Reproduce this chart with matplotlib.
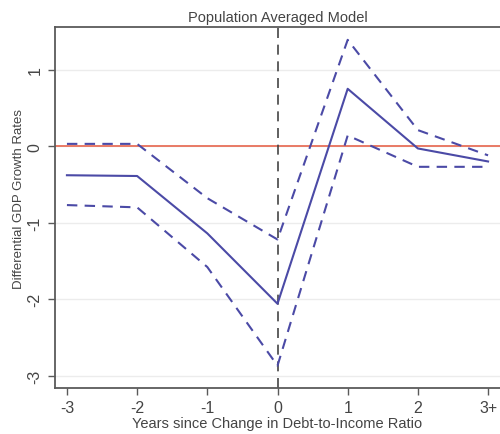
# Population averaged model: differential GDP growth around debt-to-income change
import matplotlib
matplotlib.use("Agg")
import matplotlib.pyplot as plt

plt.rcParams['font.family'] = ['Liberation Sans', 'DejaVu Sans']

# данные
years = [-3, -2, -1, 0, 1, 2, 3]
year_labels = ["-3", "-2", "-1", "0", "1", "2", "3+"]
estimate = [-0.38, -0.39, -1.14, -2.06, 0.75, -0.03, -0.20]
upper_ci = [0.03, 0.03, -0.68, -1.22, 1.39, 0.21, -0.12]
lower_ci = [-0.77, -0.80, -1.58, -2.87, 0.14, -0.27, -0.27]
y_ticks = [1, 0, -1, -2, -3]

line_color = '#4b4aa6'
text_color = '#444444'

fig = plt.figure(figsize=(5.0, 4.35), dpi=100)
ax = fig.add_axes([0.11, 0.106, 0.89, 0.83])

for yt in y_ticks:
    ax.axhline(yt, color='#ececec', linewidth=1.0, zorder=0)

ax.axhline(0, color='#e8705a', linewidth=1.3, zorder=1)
ax.axvline(0, color='#444444', linewidth=1.2, linestyle=(0, (6, 4)), zorder=1)

ax.plot(years, estimate, color=line_color, linewidth=1.5, zorder=3)
ax.plot(years, upper_ci, color=line_color, linewidth=1.5,
        linestyle=(0, (5, 3.5)), zorder=3)
ax.plot(years, lower_ci, color=line_color, linewidth=1.5,
        linestyle=(0, (5, 3.5)), zorder=3)

ax.set_xlim(-3.17, 3.17)
ax.set_ylim(-3.16, 1.56)
ax.set_xticks(years)
ax.set_xticklabels(year_labels, fontsize=11.5)
ax.set_yticks(y_ticks)
ax.set_yticklabels([str(v) for v in y_ticks], fontsize=11.5, rotation=90, va='center')

for side in ['left', 'bottom', 'top']:
    ax.spines[side].set_color('#5a5a5a')
    ax.spines[side].set_linewidth(1.3)
ax.spines['right'].set_visible(False)

ax.tick_params(axis='both', direction='out', length=5, width=1.0,
               color='#5a5a5a', labelcolor=text_color)
ax.tick_params(axis='x', pad=4)
ax.tick_params(axis='y', pad=4)

ax.set_title("Population Averaged Model", fontsize=10.5, color=text_color, pad=4)
ax.set_xlabel("Years since Change in Debt-to-Income Ratio", fontsize=10.5,
              color=text_color, labelpad=0.5)
ax.set_ylabel("Differential GDP Growth Rates", fontsize=9.5, color=text_color)
ax.yaxis.set_label_coords(-0.068, 0.525)

fig.savefig("out.png", dpi=100)
